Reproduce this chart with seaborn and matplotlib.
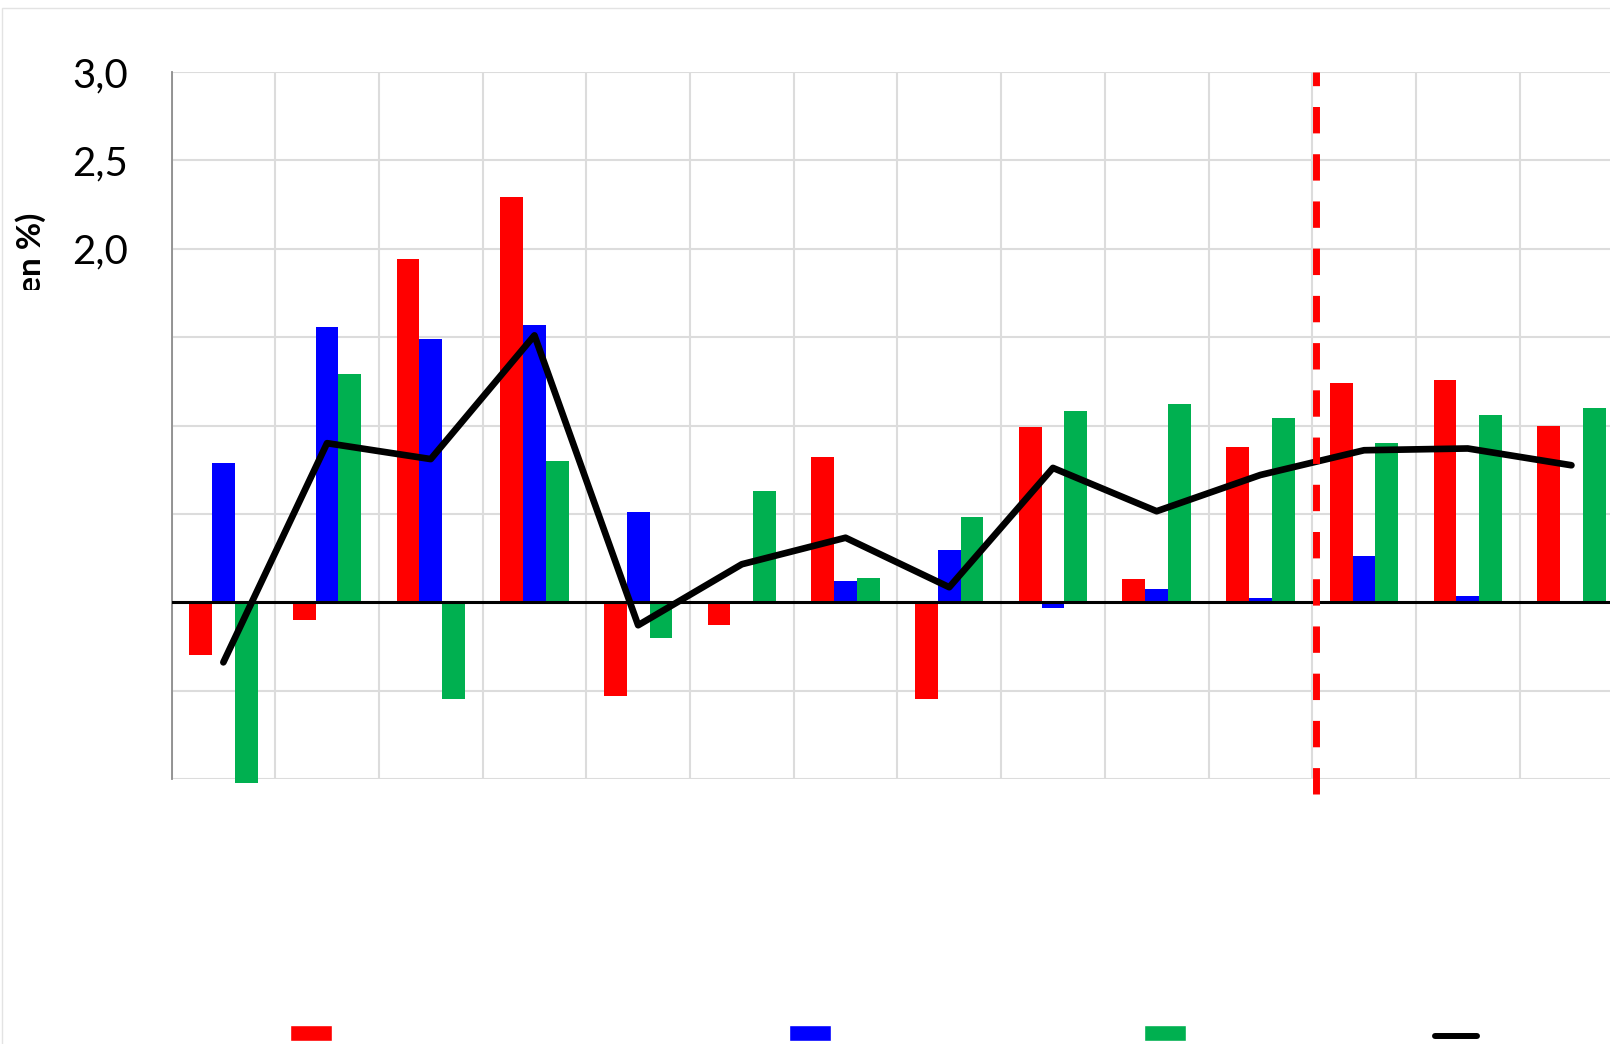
import numpy as np
import pandas as pd
import matplotlib
matplotlib.use("Agg")
import matplotlib.pyplot as plt
import seaborn as sns
from matplotlib.patches import Patch, Rectangle
from matplotlib.lines import Line2D
from matplotlib.transforms import Bbox, TransformedBbox

# data (values in %)
periodes = ["P1", "P2", "P3", "P4", "P5", "P6", "P7",
            "P8", "P9", "P10", "P11", "P12", "P13", "P14"]
series = ["Série 1", "Série 2", "Série 3"]
serie_rouge = [-0.30, -0.10, 1.94, 2.29, -0.53, -0.13, 0.82, -0.55, 0.99, 0.13, 0.88, 1.24, 1.26, 1.00]
serie_bleue = [0.79, 1.56, 1.49, 1.57, 0.51, 0.00, 0.12, 0.295, -0.03, 0.075, 0.025, 0.26, 0.035, 0.00]
serie_verte = [-1.02, 1.29, -0.55, 0.80, -0.20, 0.63, 0.14, 0.48, 1.08, 1.12, 1.04, 0.90, 1.06, 1.10]
total = [-0.34, 0.90, 0.81, 1.51, -0.13, 0.215, 0.365, 0.085, 0.76, 0.515, 0.72, 0.86, 0.87, 0.775]
yticks = [-1.0, -0.5, 0.0, 0.5, 1.0, 1.5, 2.0, 2.5, 3.0]
ytick_labels = ["", "", "", "", "", "", "2,0", "2,5", "3,0"]
rupture = 10.54  # vertical dashed marker between P11 and P12

ROUGE, BLEU, VERT = "#FF0000", "#0000FF", "#00B050"

df = pd.DataFrame({
    "periode": periodes * 3,
    "serie": [s for s in series for _ in periodes],
    "valeur": serie_rouge + serie_bleue + serie_verte,
})

sns.set_style("white")
plt.rcParams["font.family"] = ["Lato", "DejaVu Sans"]
plt.rcParams["text.color"] = "black"

W, H = 1610, 1044
fig = plt.figure(figsize=(W / 100, H / 100), dpi=100)
fig.patch.set_facecolor("white")
# faint chart-area border (extends past the right / bottom edges)
fig.patches.append(Rectangle((2 / W, -0.1), 1.2, 1 - 8 / H + 0.1, transform=fig.transFigure,
                             fill=False, edgecolor="#e3e3e3", lw=1.0))

left, right = 171.5 / W, (171.5 + 15 * 103.7) / W
bottom, top = 1 - 779 / H, 1 - 72 / H
ax = fig.add_axes([left, bottom, right - left, top - bottom])

sns.barplot(data=df, x="periode", y="valeur", hue="serie", palette=[ROUGE, BLEU, VERT],
            width=0.66, saturation=1, linewidth=0, errorbar=None, legend=False, ax=ax)
for p in ax.patches:
    p.set_clip_on(False)

ax.axhline(0, color="black", lw=2.2, zorder=3)
sns.lineplot(x=np.arange(len(periodes)), y=total, color="black", linewidth=4.8, ax=ax, zorder=4)
ax.axvline(rupture, ymin=-0.021, ymax=1, color=ROUGE, lw=5, dashes=(3.8, 3.0), clip_on=False, zorder=5)

ax.set_xlim(-0.5, 14.5)
ax.set_ylim(-1.0, 3.0)
ax.set_xticks(np.arange(-0.5, 14.6, 1.0))
ax.set_xticklabels([])
ax.set_yticks(yticks)
ax.set_yticklabels(ytick_labels)
ax.tick_params(axis="both", length=0)
ax.tick_params(axis="y", pad=31, labelsize=29, labelcolor="black")
ax.set_xlabel("")
ax.set_ylabel("")
ax.grid(True, color="#dcdcdc", lw=1.5)
ax.set_axisbelow(True)
for s in ["top", "right", "bottom"]:
    ax.spines[s].set_visible(False)
ax.spines["left"].set_color("#8c8c8c")
ax.spines["left"].set_linewidth(1.3)
ax.spines["left"].set_zorder(2)

# y-axis title, only its top part shows in the reference
ylab = fig.text(31 / W, 1 - 213 / H, "(en %)", rotation=90, ha="center", va="top",
                fontsize=24, fontweight="bold", color="black")
ylab.set_clip_box(TransformedBbox(Bbox([[0, 1 - 290 / H], [1, 1]]), fig.transFigure))
ylab.set_clip_on(True)

# legend keys at the bottom edge (their labels fall outside the picture)
handles = [Patch(facecolor=ROUGE), Patch(facecolor=BLEU), Patch(facecolor=VERT),
           Line2D([], [], color="black", lw=4.3)]
x_keys = [289.5, 788.6, 1144.0, 1434.5]
y_keys = [1025, 1025, 1025, 1030]
for h, xk, yk in zip(handles, x_keys, y_keys):
    fig.legend(handles=[h], labels=[""], loc="upper left", bbox_to_anchor=(xk / W, 1 - yk / H),
               frameon=False, borderpad=0, borderaxespad=0, handletextpad=0,
               fontsize=8, handlelength=42 / 11.1, handleheight=21 / 11.1)

fig.savefig("out.png", dpi=100)
